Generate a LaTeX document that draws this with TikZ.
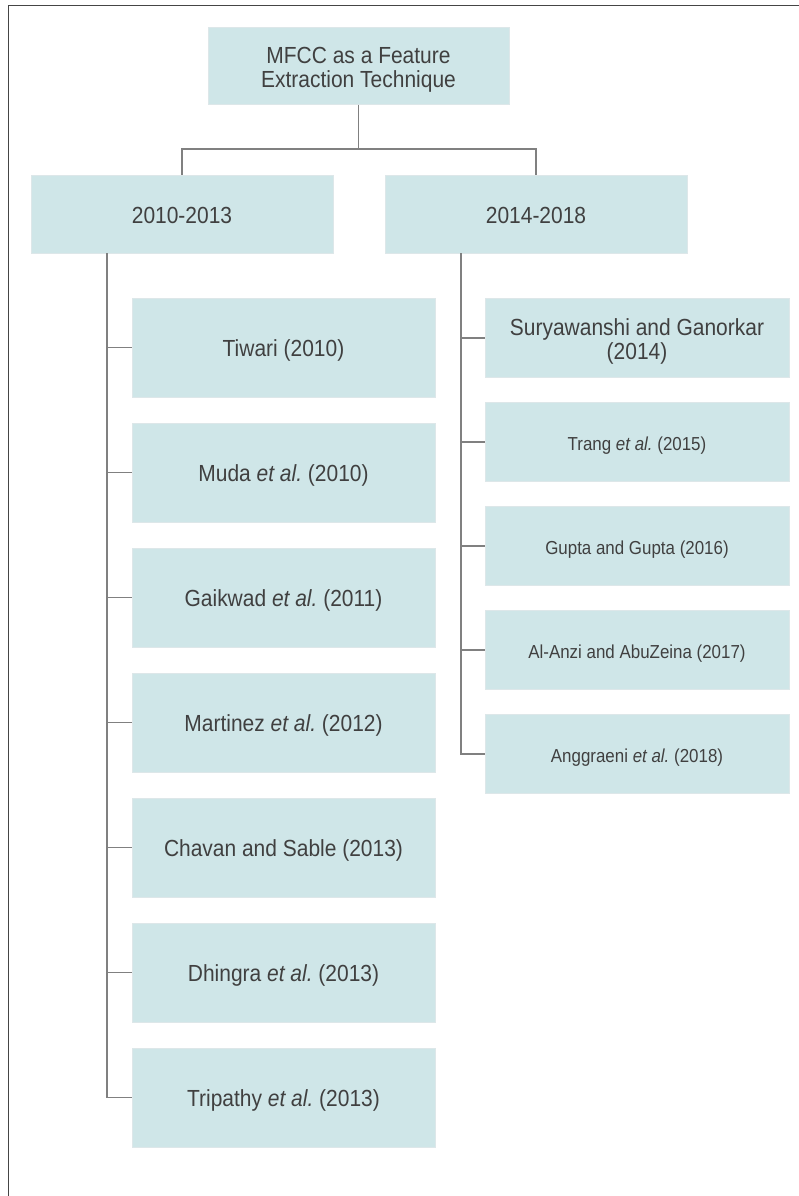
\documentclass[tikz,border=0pt]{standalone}
\usepackage{fontspec}
\setmainfont{Liberation Sans}[FakeStretch=0.9]
\frenchspacing
\definecolor{boxfill}{HTML}{CFE6E8}
\definecolor{boxedge}{HTML}{DDE7E9}
\definecolor{linkgray}{HTML}{808080}
\definecolor{framegray}{HTML}{454545}
\definecolor{txt}{HTML}{404040}
% box text: centred lines, set a little below the box's middle
\newcommand\boxlabel[1]{\raisebox{-4.5pt}[\height][\depth]{%
  \begin{tabular}{@{}c@{}}#1\end{tabular}}}
\begin{document}
\begin{tikzpicture}[x=1pt,y=-1pt,
  box/.style={rectangle, fill=boxfill, draw=boxedge, line width=0.8pt,
    inner sep=0pt, text=txt, font=\fontsize{23.3}{24}\selectfont},
  smalltext/.style={font=\fontsize{18.8}{20}\selectfont},
  groupbox/.style={box, minimum width=302pt, minimum height=78pt},
  leftbox/.style={box, minimum width=303pt, minimum height=99pt},
  rightbox/.style={box, minimum width=304pt, minimum height=79pt},
  link/.style={draw=linkgray, line width=1.7pt},
  frameline/.style={draw=framegray, line width=1.3pt}]
\useasboundingbox (0,0) rectangle (799,1196);

% outer frame (left and top edges)
\coordinate (fbl) at (8.5,1196);
\coordinate (ftr) at (799,5.5);
\draw[frameline] (fbl) |- (ftr);

% root and period boxes
\node[box, minimum width=301pt, minimum height=77pt] (root) at (358.5,65.8)
  {\boxlabel{MFCC as a Feature\\Extraction Technique}};
\node[groupbox] (g1) at (182,214) {\boxlabel{2010-2013}};
\node[groupbox] (g2) at (536,214) {\boxlabel{2014-2018}};

% 2010-2013 studies
\node[leftbox] (l1) at (283.5,347.5) {\boxlabel{Tiwari (2010)}};
\node[leftbox] (l2) at (283.5,472.5) {\boxlabel{Muda {\itshape et al.} (2010)}};
\node[leftbox] (l3) at (283.5,597.5) {\boxlabel{Gaikwad {\itshape et al.} (2011)}};
\node[leftbox] (l4) at (283.5,722.5) {\boxlabel{Martinez {\itshape et al.} (2012)}};
\node[leftbox] (l5) at (283.5,847.5) {\boxlabel{Chavan and Sable (2013)}};
\node[leftbox] (l6) at (283.5,972.5) {\boxlabel{Dhingra {\itshape et al.} (2013)}};
\node[leftbox] (l7) at (283.5,1097.5) {\boxlabel{Tripathy {\itshape et al.} (2013)}};

% 2014-2018 studies
\node[rightbox] (r1) at (637,338) {\boxlabel{Suryawanshi and Ganorkar\\(2014)}};
\node[rightbox, smalltext] (r2) at (637,442) {\boxlabel{Trang {\itshape et al.} (2015)}};
\node[rightbox, smalltext] (r3) at (637,546) {\boxlabel{Gupta and Gupta (2016)}};
\node[rightbox, smalltext] (r4) at (637,650) {\boxlabel{Al-Anzi and AbuZeina (2017)}};
\node[rightbox, smalltext] (r5) at (637,754) {\boxlabel{Anggraeni {\itshape et al.} (2018)}};

% root to period boxes
\coordinate (bus) at (358.5,149);
\draw[link] (root.south) -- (bus);
\draw[link] (g1.north) |- (bus) -| (g2.north);

% left trunk and branches
\coordinate (t1) at (107,253);
\draw[link] (t1) |- (l7.west);
\foreach \n in {l1,l2,l3,l4,l5,l6}
  \draw[link] (t1 |- \n.west) -- (\n.west);

% right trunk and branches
\coordinate (t2) at (461,253);
\draw[link] (t2) |- (r5.west);
\foreach \n in {r1,r2,r3,r4}
  \draw[link] (t2 |- \n.west) -- (\n.west);
\end{tikzpicture}
\end{document}
